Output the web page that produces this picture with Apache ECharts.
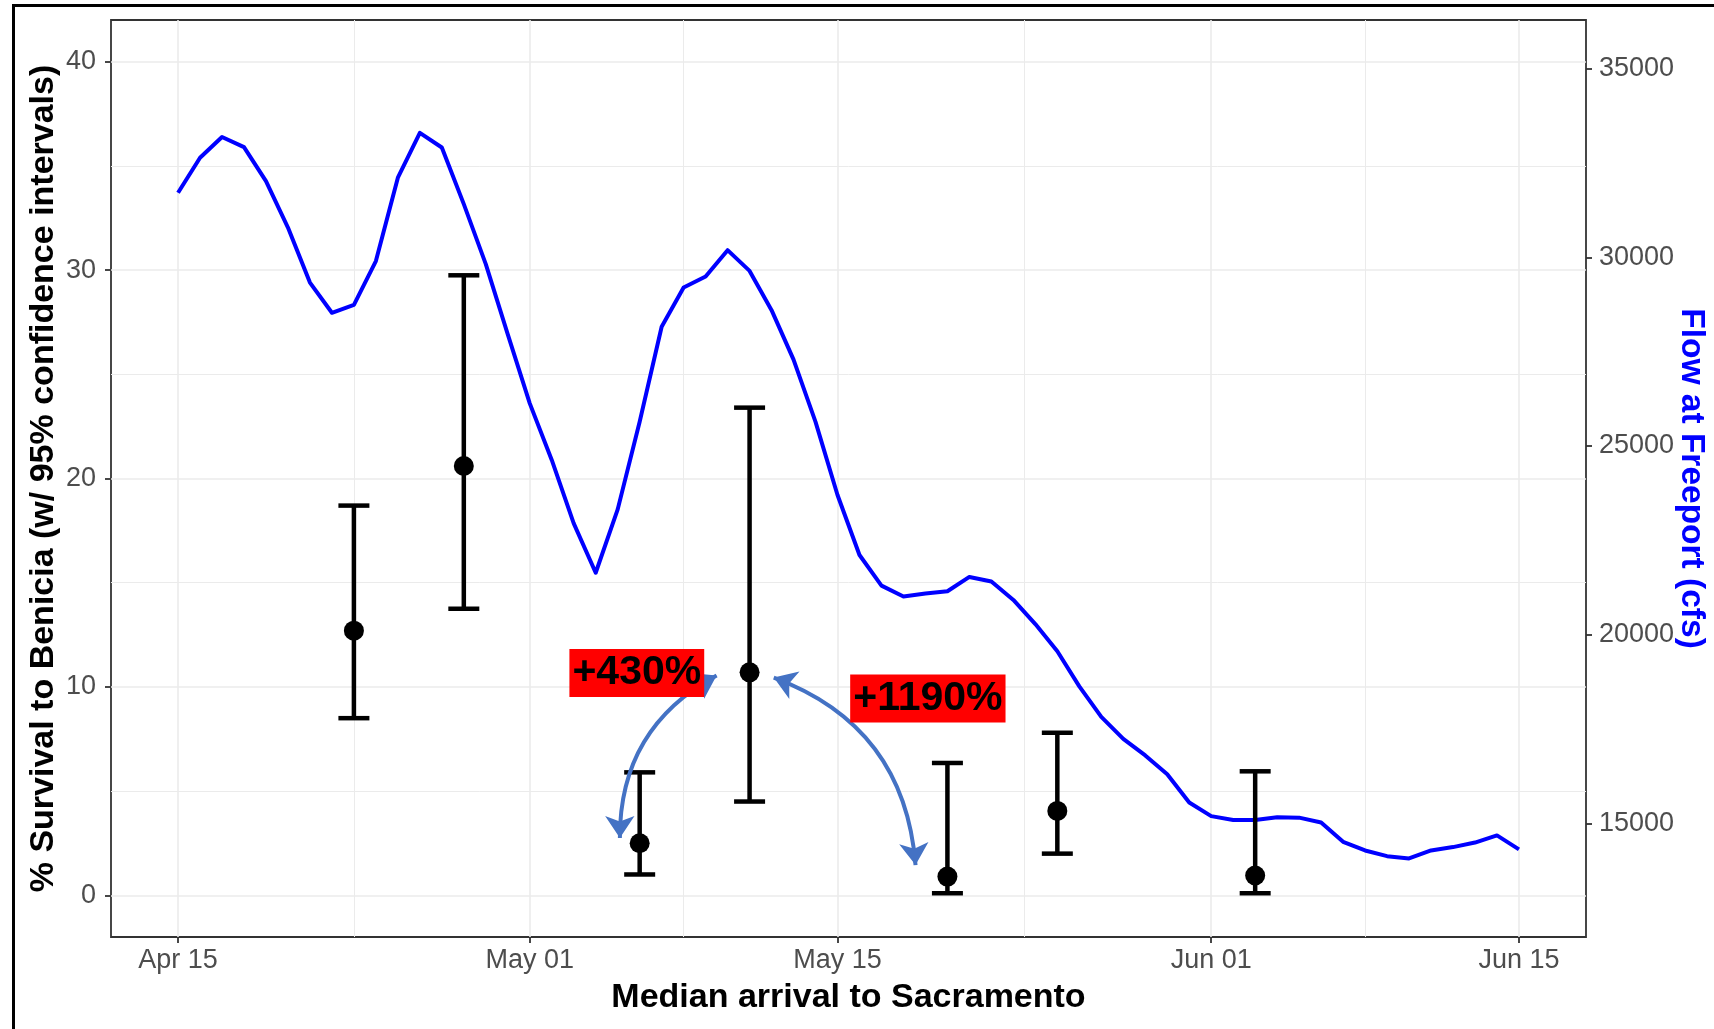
<!DOCTYPE html>
<html>
<head>
<meta charset="utf-8">
<script src="https://cdn.jsdelivr.net/npm/echarts@6/dist/echarts.min.js"></script>
<style>
  html, body { margin: 0; padding: 0; background: #fff; overflow: hidden; }
  #chart { position: absolute; left: 0; top: 0; width: 1714px; height: 1029px; }
  #frame { position: absolute; left: 12px; top: 4px; width: 1720px; height: 1040px;
           border-top: 3px solid #000; border-left: 3px solid #000; pointer-events: none; }
</style>
</head>
<body>
<div id="chart"></div>
<div id="frame"></div>
<script>
// Daily mean flow at Freeport (cfs)
const flowDates = [
  '2019-04-15','2019-04-16','2019-04-17','2019-04-18','2019-04-19','2019-04-20','2019-04-21','2019-04-22',
  '2019-04-23','2019-04-24','2019-04-25','2019-04-26','2019-04-27','2019-04-28','2019-04-29','2019-04-30',
  '2019-05-01','2019-05-02','2019-05-03','2019-05-04','2019-05-05','2019-05-06','2019-05-07','2019-05-08',
  '2019-05-09','2019-05-10','2019-05-11','2019-05-12','2019-05-13','2019-05-14','2019-05-15','2019-05-16',
  '2019-05-17','2019-05-18','2019-05-19','2019-05-20','2019-05-21','2019-05-22','2019-05-23','2019-05-24',
  '2019-05-25','2019-05-26','2019-05-27','2019-05-28','2019-05-29','2019-05-30','2019-05-31','2019-06-01',
  '2019-06-02','2019-06-03','2019-06-04','2019-06-05','2019-06-06','2019-06-07','2019-06-08','2019-06-09',
  '2019-06-10','2019-06-11','2019-06-12','2019-06-13','2019-06-14','2019-06-15'
];
const flowCfs = [
  31710, 32640, 33190, 32920, 32020, 30790, 29330, 28530,
  28740, 29900, 32110, 33300, 32910, 31410, 29820, 27960,
  26130, 24630, 22950, 21640, 23320, 25640, 28160, 29200,
  29490, 30190, 29640, 28600, 27290, 25640, 23700, 22110,
  21300, 21010, 21090, 21150, 21530, 21410, 20920, 20280,
  19560, 18630, 17820, 17240, 16800, 16300, 15550, 15190,
  15090, 15090, 15160, 15150, 15020, 14510, 14280, 14130,
  14070, 14280, 14370, 14490, 14680, 14310
];

// Survival to Benicia (%) with 95% confidence limits
const survDates = ['2019-04-23','2019-04-28','2019-05-06','2019-05-11','2019-05-20','2019-05-25','2019-06-03'];
const survEst   = [12.7, 20.6, 2.5, 10.7, 0.9, 4.05, 0.95];
const survLow   = [8.5, 13.75, 1.0, 4.5, 0.1, 2.0, 0.1];
const survHigh  = [18.7, 29.75, 5.9, 23.4, 6.35, 7.8, 5.95];

// Axis breaks
const dateTicks = ['2019-04-15','2019-05-01','2019-05-15','2019-06-01','2019-06-15'];
const dateTickLabels = ['Apr 15','May 01','May 15','Jun 01','Jun 15'];
const survTicks = [0, 10, 20, 30, 40];
const flowTicks = [15000, 20000, 25000, 30000, 35000];

// Annotation texts
const noteLabels = ['+430%', '+1190%'];

const FONT = '"Liberation Sans", Arial, Helvetica, sans-serif';
const DAY0 = Date.UTC(2019, 3, 15);
const dayOf = s => (Date.UTC(+s.slice(0, 4), +s.slice(5, 7) - 1, +s.slice(8, 10)) - DAY0) / 86400000;

const xMajor = dateTicks.map(dayOf);
const xMinor = xMajor.slice(1).map((v, i) => (v + xMajor[i]) / 2);
const yMinor = survTicks.slice(1).map((v, i) => (v + survTicks[i]) / 2);

const flowData = flowDates.map((d, i) => [dayOf(d), flowCfs[i]]);
const survPoints = survDates.map((d, i) => [dayOf(d), survEst[i]]);
const survBars = survDates.map((d, i) => [dayOf(d), survLow[i], survHigh[i]]);

const X_MIN = -3.05, X_MAX = 64.05;
const Y_MIN = -2, Y_MAX = 42;
const F_MIN = 11987, F_MAX = 36290;

const tickLabel = { fontSize: 27, color: '#4D4D4D', fontFamily: FONT };
const titleText = { fontSize: 34, fontWeight: 'bold', color: '#000', fontFamily: FONT };
const gridLine = w => ({ show: true, lineStyle: { color: '#EBEBEB', width: w } });
const tickStyle = { show: true, inside: false, length: 6, lineStyle: { color: '#333333', width: 1.8 } };
const noLine = { show: false, onZero: false };

const chart = echarts.init(document.getElementById('chart'), null, { renderer: 'canvas', width: 1714, height: 1029 });

chart.setOption({
  animation: false,
  backgroundColor: '#fff',
  grid: {
    left: 111, right: 128, top: 20, bottom: 92, containLabel: false, outerBoundsMode: 'none',
    show: true, borderColor: '#333333', borderWidth: 1.8, backgroundColor: 'transparent'
  },
  xAxis: [
    {
      type: 'value', min: X_MIN, max: X_MAX, position: 'bottom',
      axisLine: noLine,
      axisTick: Object.assign({ customValues: xMajor }, tickStyle),
      axisLabel: Object.assign({ customValues: xMajor, margin: 10,
        formatter: v => { const i = xMajor.indexOf(v); return i >= 0 ? dateTickLabels[i] : ''; } }, tickLabel),
      splitLine: gridLine(1.6),
      name: 'Median arrival to Sacramento', nameLocation: 'middle', nameGap: 44, nameMoveOverlap: false,
      nameTextStyle: titleText
    },
    {
      type: 'value', min: X_MIN, max: X_MAX, position: 'bottom',
      axisLine: noLine, axisTick: { show: false, customValues: xMinor },
      axisLabel: { show: false }, splitLine: gridLine(1)
    }
  ],
  yAxis: [
    {
      type: 'value', min: Y_MIN, max: Y_MAX, position: 'left',
      axisLine: noLine,
      axisTick: Object.assign({ customValues: survTicks }, tickStyle),
      axisLabel: Object.assign({ customValues: survTicks, margin: 15 }, tickLabel),
      splitLine: gridLine(1.6),
      name: '% Survival to Benicia (w/ 95% confidence intervals)', nameLocation: 'middle', nameGap: 50,
      nameMoveOverlap: false, nameTextStyle: titleText
    },
    {
      type: 'value', min: Y_MIN, max: Y_MAX, position: 'left',
      axisLine: noLine, axisTick: { show: false, customValues: yMinor },
      axisLabel: { show: false }, splitLine: gridLine(1)
    },
    {
      type: 'value', min: F_MIN, max: F_MAX, position: 'right',
      axisLine: noLine,
      axisTick: Object.assign({ customValues: flowTicks }, tickStyle),
      axisLabel: Object.assign({ customValues: flowTicks, margin: 13, formatter: v => String(v) }, tickLabel),
      splitLine: { show: false },
      name: 'Flow at Freeport (cfs)', nameLocation: 'middle', nameGap: 88, nameRotate: -90, nameMoveOverlap: false,
      nameTextStyle: Object.assign({}, titleText, { fontSize: 33.5, color: '#0000FF' })
    }
  ],
  series: [
    {
      name: 'Flow', type: 'line', xAxisIndex: 0, yAxisIndex: 2, data: flowData,
      symbol: 'none', showSymbol: false, z: 3,
      lineStyle: { color: '#0000FF', width: 4, join: 'round' }
    },
    {
      name: 'CI', type: 'custom', xAxisIndex: 0, yAxisIndex: 0, data: survBars, z: 4,
      encode: { x: 0, y: [1, 2] },
      renderItem: (params, api) => {
        const top = api.coord([api.value(0), api.value(2)]);
        const bot = api.coord([api.value(0), api.value(1)]);
        const half = 15.5;
        const st = { stroke: '#000', lineWidth: 4.5 };
        return {
          type: 'group',
          children: [
            { type: 'line', shape: { x1: top[0], y1: top[1], x2: bot[0], y2: bot[1] }, style: st },
            { type: 'line', shape: { x1: top[0] - half, y1: top[1], x2: top[0] + half, y2: top[1] }, style: st },
            { type: 'line', shape: { x1: bot[0] - half, y1: bot[1], x2: bot[0] + half, y2: bot[1] }, style: st }
          ]
        };
      }
    },
    {
      name: 'Survival', type: 'scatter', xAxisIndex: 0, yAxisIndex: 0, data: survPoints, z: 5,
      symbol: 'circle', symbolSize: 20, itemStyle: { color: '#000', opacity: 1 }
    },
    {
      name: 'Arrows', type: 'lines', coordinateSystem: 'cartesian2d', xAxisIndex: 0, yAxisIndex: 0, z: 6,
      symbol: ['arrow', 'arrow'], symbolSize: [22, 22], silent: true,
      lineStyle: { color: '#4472C4', width: 4, opacity: 1 },
      data: [
        { coords: [[20.1, 2.75], [24.5, 10.55]], lineStyle: { curveness: 0.3 } },
        { coords: [[27.1, 10.45], [33.55, 1.45]], lineStyle: { curveness: 0.32 } }
      ]
    },
    {
      name: 'Notes', type: 'scatter', xAxisIndex: 0, yAxisIndex: 0, z: 8, silent: true,
      symbolSize: 0, itemStyle: { opacity: 1 },
      data: [
        { value: [20.87, 10.67], name: noteLabels[0] },
        { value: [34.11, 9.44], name: noteLabels[1] }
      ],
      label: {
        show: true, position: 'inside', formatter: '{b}', opacity: 1,
        backgroundColor: '#FF0000', color: '#000', fontSize: 41, fontWeight: 'bold', fontFamily: FONT,
        lineHeight: 44, padding: [3, 3, 1, 3]
      }
    }
  ]
});
</script>
</body>
</html>
